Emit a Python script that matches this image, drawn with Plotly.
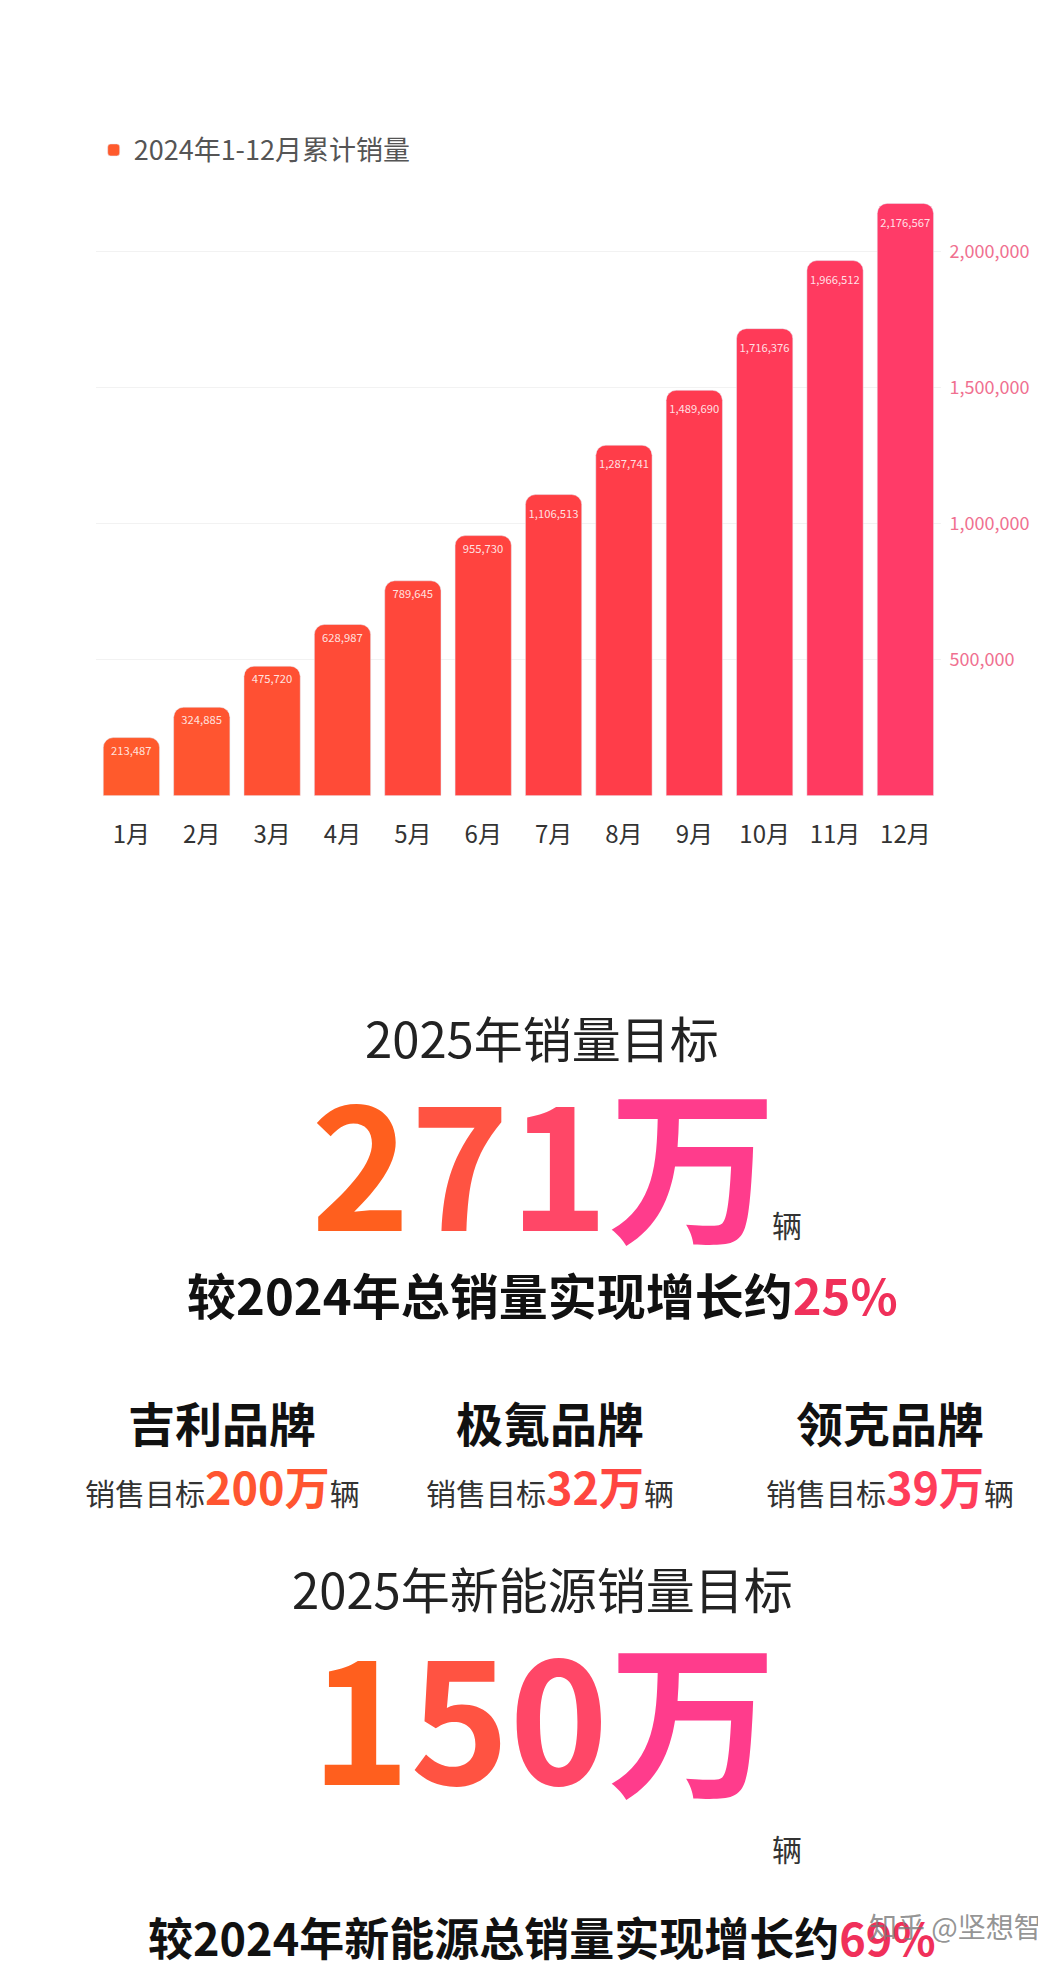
import plotly.graph_objects as go

months = ["1月","2月","3月","4月","5月","6月","7月","8月","9月","10月","11月","12月"]
sales = [213487, 324885, 475720, 628987, 789645, 955730, 1106513, 1287741, 1489690, 1716376, 1966512, 2176567]
colors = ["#FF5A2C","#FF5530","#FF5033","#FF4B37","#FF473B","#FF433F","#FF4044","#FF3D49","#FF3B50","#FF3A58","#FF3A60","#FF3B68"]

W, H = 1046, 1967
K = 1046 / 830
def px(p): return p * K / W
def py(p): return 1 - p * K / H

fig = go.Figure()
fig.add_trace(go.Bar(
    x=months, y=sales, marker=dict(color=colors, cornerradius=10),
    text=[f"{v:,}" for v in sales], textposition="inside", insidetextanchor="end", textangle=0,
    textfont=dict(color="rgba(255,255,255,0.85)", size=12), name="2024年1-12月累计销量",
    showlegend=True, cliponaxis=False))

fig.update_layout(
    width=W, height=H, margin=dict(l=0, r=0, t=0, b=0),
    paper_bgcolor="white", plot_bgcolor="white",
    font=dict(family="Noto Sans CJK SC, sans-serif"),
    bargap=0.2,
    uniformtext=dict(minsize=10, mode="show"),
    xaxis=dict(domain=[px(70), px(740)], tickfont=dict(size=24, color="#333"), showline=False,
               ticks="", ticklabelstandoff=22),
    yaxis=dict(domain=[py(625), py(150)], range=[0, 2200000], side="right",
               tickvals=[500000, 1000000, 1500000, 2000000],
               ticktext=["500,000", "1,000,000", "1,500,000", "2,000,000"],
               tickfont=dict(size=18, color="#F07090"), gridcolor="#F2F2F2", zeroline=False,
               ticklabelstandoff=8),
    legend=dict(x=px(68), y=py(113), yanchor="middle", xanchor="left", font=dict(size=27, color="#555")),
)

def grad(s, c1, c2):
    out = []
    n = len(s)
    for i, ch in enumerate(s):
        t = i / max(n - 1, 1)
        r = int(c1[0] + (c2[0]-c1[0]) * t); g = int(c1[1] + (c2[1]-c1[1]) * t); b = int(c1[2] + (c2[2]-c1[2]) * t)
        out.append(f"<span style='color:rgb({r},{g},{b})'>{ch}</span>")
    return "".join(out)

O = (255, 95, 30); P = (255, 60, 140)
anns = [
    (424, 816, "2025年销量目标", 49, "#222"),
    (425, 912, "<b>" + grad("271万", O, P) + "</b>", 168, "#000"),
    (618, 965, "辆", 30, "#333"),
    (424, 1020, "<b>较2024年总销量实现增长约<span style='color:#F0305A'>25%</span></b>", 49, "#111"),
    (170, 1122, "<b>吉利品牌</b>", 47, "#111"),
    (430, 1122, "<b>极氪品牌</b>", 47, "#111"),
    (700, 1122, "<b>领克品牌</b>", 47, "#111"),
    (170, 1172, "销售目标<b><span style='font-size:45px;color:#FF5530'>200万</span></b>辆", 30, "#333"),
    (430, 1172, "销售目标<b><span style='font-size:45px;color:#FF4640'>32万</span></b>辆", 30, "#333"),
    (700, 1172, "销售目标<b><span style='font-size:45px;color:#FF3D5A'>39万</span></b>辆", 30, "#333"),
    (424, 1253, "2025年新能源销量目标", 49, "#222"),
    (425, 1352, "<b>" + grad("150万", O, P) + "</b>", 168, "#000"),
    (618, 1460, "辆", 30, "#333"),
    (424, 1530, "<b>较2024年新能源总销量实现增长约<span style='color:#F0305A'>69%</span></b>", 45, "#111"),
    (752, 1522, "知乎 @坚想智", 28, "rgba(120,120,120,0.8)"),
]
for x, y, t, s, c in anns:
    fig.add_annotation(x=px(x), y=py(y), xref="paper", yref="paper", text=t, showarrow=False,
                       font=dict(size=s, color=c), xanchor="center", yanchor="middle")

fig.write_html("out.html")
